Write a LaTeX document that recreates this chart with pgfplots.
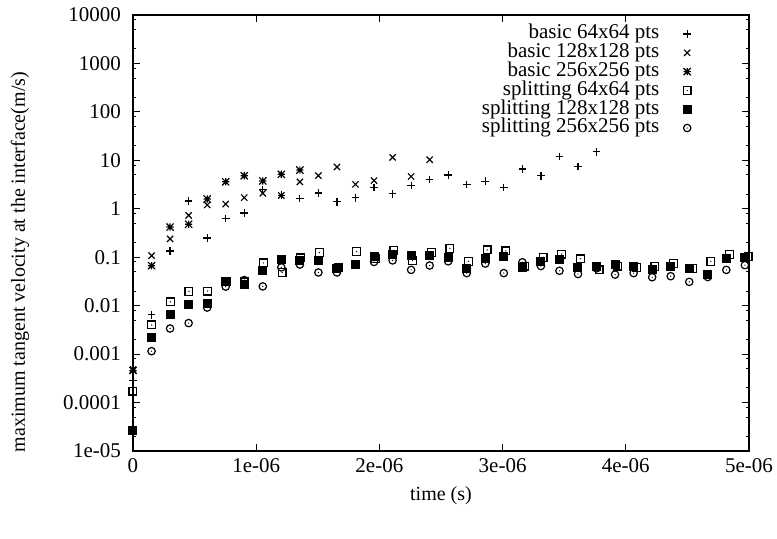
\documentclass[border=0pt]{standalone}
\usepackage{fontspec}
\setmainfont{Liberation Serif}
\usepackage{pgfplots}
\pgfplotsset{compat=1.18}
\pgfdeclareplotmark{sqdot}{%
  \pgfpathrectangle{\pgfpoint{-\pgfplotmarksize}{-\pgfplotmarksize}}{\pgfpoint{2\pgfplotmarksize}{2\pgfplotmarksize}}%
  \pgfusepathqstroke
  \pgfpathcircle{\pgfpointorigin}{0.35pt}\pgfusepathqfill}
\pgfdeclareplotmark{circdot}{%
  \pgfpathcircle{\pgfpointorigin}{\pgfplotmarksize}\pgfusepathqstroke
  \pgfpathcircle{\pgfpointorigin}{0.35pt}\pgfusepathqfill}
\pgfdeclareplotmark{gpstar}{%
  \pgfpathmoveto{\pgfpoint{\pgfplotmarksize}{0pt}}\pgfpathlineto{\pgfpoint{-\pgfplotmarksize}{0pt}}%
  \pgfpathmoveto{\pgfpoint{0pt}{\pgfplotmarksize}}\pgfpathlineto{\pgfpoint{0pt}{-\pgfplotmarksize}}%
  \pgfpathmoveto{\pgfpoint{\pgfplotmarksize}{\pgfplotmarksize}}\pgfpathlineto{\pgfpoint{-\pgfplotmarksize}{-\pgfplotmarksize}}%
  \pgfpathmoveto{\pgfpoint{-\pgfplotmarksize}{\pgfplotmarksize}}\pgfpathlineto{\pgfpoint{\pgfplotmarksize}{-\pgfplotmarksize}}%
  \pgfusepathqstroke}
\newcommand{\gpfont}{\fontsize{10.5}{12}\selectfont}
\begin{document}
\begin{tikzpicture}
\begin{axis}[
  scale only axis, width=308pt, height=218pt,
  ymode=log, ymin=1e-5, ymax=1e4,
  xmin=0, xmax=5e-6,
  scaled x ticks=false,
  xtick={0,1e-6,2e-6,3e-6,4e-6,5e-6},
  xticklabels={0,1e-06,2e-06,3e-06,4e-06,5e-06},
  ytick={1e-5,1e-4,1e-3,1e-2,1e-1,1,10,100,1000,10000},
  yticklabels={1e-05,0.0001,0.001,0.01,0.1,1,10,100,1000,10000},
  minor ytick={2e-5,5e-5,8e-5,2e-4,5e-4,8e-4,2e-3,5e-3,8e-3,2e-2,5e-2,8e-2,0.2,0.5,0.8,2,5,8,20,50,80,200,500,800,2000,5000,8000},
  tick align=inside, major tick length=3.3pt, minor tick length=1.7pt,
  axis line style={line width=0.6pt},
  every tick/.style={black, line width=0.5pt},
  every tick label/.append style={font=\gpfont},
  yticklabel style={xshift=-2.5pt},
  label style={font=\gpfont},
  xlabel={time (s)},
  ylabel={maximum tangent velocity at the interface(m/s)},
  every axis x label/.style={at={([yshift=-22.5pt]rel axis cs:0.5,0)}, anchor=center},
  every axis y label/.style={at={([xshift=-56.5pt]rel axis cs:0,0.433)}, rotate=90, anchor=center},
  legend style={draw=none, fill=none, at={(rel axis cs:1,1)}, anchor=north east,
    xshift=-28.75pt, yshift=-4.6pt, inner sep=0pt, font=\gpfont,
    nodes={inner sep=0pt, text height=7.1pt, text depth=2.3pt},
    row sep=0pt, column sep=12pt},
  legend cell align=right, legend plot pos=right,
]
\addplot[only marks, black, mark=+, mark size=1.9pt, line width=0.6pt] table {
t v
0 0.000283
1.505e-7 0.0065
3.01e-7 0.135
4.515e-7 1.45
6.02e-7 0.25
7.525e-7 0.63
9.03e-7 0.82
1.0535e-6 2.47
1.204e-6 1.9
1.3545e-6 1.62
1.505e-6 2.12
1.6555e-6 1.39
1.806e-6 1.69
1.9565e-6 2.74
2.107e-6 2.03
2.2575e-6 3.05
2.408e-6 4.0
2.5585e-6 5.0
2.709e-6 3.19
2.8595e-6 3.7
3.01e-6 2.74
3.1605e-6 6.6
3.311e-6 4.79
3.4615e-6 12.0
3.612e-6 7.5
3.7625e-6 15
};
\addlegendentry{basic 64x64 pts}
\addplot[only marks, black, mark=x, mark size=2.2pt, line width=0.6pt] table {
t v
0 0.00048
1.505e-7 0.108
3.01e-7 0.239
4.515e-7 0.73
6.02e-7 1.2
7.525e-7 1.25
9.03e-7 1.7
1.0535e-6 2.09
1.204e-6 1.88
1.3545e-6 3.59
1.505e-6 4.85
1.6555e-6 7.3
1.806e-6 3.19
1.9565e-6 3.82
2.107e-6 11.5
2.2575e-6 4.64
2.408e-6 10.3
};
\addlegendentry{basic 128x128 pts}
\addplot[only marks, black, mark=gpstar, mark size=1.8pt, line width=0.6pt] table {
t v
0 0.00046
1.505e-7 0.067
3.01e-7 0.42
4.515e-7 0.48
6.02e-7 1.59
7.525e-7 3.6
9.03e-7 4.8
1.0535e-6 3.76
1.204e-6 5.15
1.3545e-6 6.3
};
\addlegendentry{basic 256x256 pts}
\addplot[only marks, black, mark=sqdot, mark size=1.95pt, line width=0.6pt] table {
t v
0 0.000172
1.513e-7 0.0040
3.026e-7 0.012
4.539e-7 0.0197
6.052e-7 0.020
7.565e-7 0.031
9.078e-7 0.031
1.0591e-6 0.0762
1.2104e-6 0.0485
1.3617e-6 0.0969
1.513e-6 0.125
1.6643e-6 0.061
1.8156e-6 0.131
1.9669e-6 0.0927
2.1182e-6 0.139
2.2695e-6 0.086
2.4208e-6 0.125
2.5721e-6 0.152
2.7234e-6 0.0824
2.8747e-6 0.1416
3.026e-6 0.135
3.1773e-6 0.0658
3.3286e-6 0.100
3.4799e-6 0.116
3.6312e-6 0.0927
3.7825e-6 0.0548
3.9338e-6 0.0658
4.0851e-6 0.0617
4.2364e-6 0.0637
4.3877e-6 0.074
4.539e-6 0.059
4.6903e-6 0.0824
4.8416e-6 0.113
4.9929e-6 0.103
};
\addlegendentry{splitting 64x64 pts}
\addplot[only marks, black, mark=square*, mark size=1.95pt, line width=0.6pt] table {
t v
0 2.6e-5
1.505e-7 0.00222
3.01e-7 0.0066
4.515e-7 0.0108
6.02e-7 0.0113
7.525e-7 0.031
9.03e-7 0.0279
1.0535e-6 0.0525
1.204e-6 0.0885
1.3545e-6 0.086
1.505e-6 0.086
1.6555e-6 0.0574
1.806e-6 0.072
1.9565e-6 0.103
2.107e-6 0.113
2.2575e-6 0.108
2.408e-6 0.108
2.5585e-6 0.100
2.709e-6 0.059
2.8595e-6 0.0927
3.01e-6 0.103
3.1605e-6 0.0617
3.311e-6 0.0824
3.4615e-6 0.090
3.612e-6 0.0617
3.7625e-6 0.0637
3.913e-6 0.072
4.0635e-6 0.0637
4.214e-6 0.0548
4.3645e-6 0.0637
4.515e-6 0.059
4.6655e-6 0.0438
4.816e-6 0.0955
4.9665e-6 0.100
};
\addlegendentry{splitting 128x128 pts}
\addplot[only marks, black, mark=circdot, mark size=1.85pt, line width=0.6pt] table {
t v
1.505e-7 0.00115
3.01e-7 0.00338
4.515e-7 0.00437
6.02e-7 0.00914
7.525e-7 0.0247
9.03e-7 0.0338
1.0535e-6 0.025
1.204e-6 0.0617
1.3545e-6 0.0707
1.505e-6 0.0485
1.6555e-6 0.0485
1.806e-6 0.070
1.9565e-6 0.0798
2.107e-6 0.086
2.2575e-6 0.0548
2.408e-6 0.0675
2.5585e-6 0.0824
2.709e-6 0.047
2.8595e-6 0.074
3.01e-6 0.047
3.1605e-6 0.0787
3.311e-6 0.0658
3.4615e-6 0.0525
3.612e-6 0.045
3.7625e-6 0.059
3.913e-6 0.0438
4.0635e-6 0.047
4.214e-6 0.0387
4.3645e-6 0.0406
4.515e-6 0.031
4.6655e-6 0.039
4.816e-6 0.0548
4.9665e-6 0.0687
};
\addlegendentry{splitting 256x256 pts}
\end{axis}
\pgfresetboundingbox
\path (-66.5pt,-43.5pt) rectangle (322pt,225.5pt);
\end{tikzpicture}
\end{document}
